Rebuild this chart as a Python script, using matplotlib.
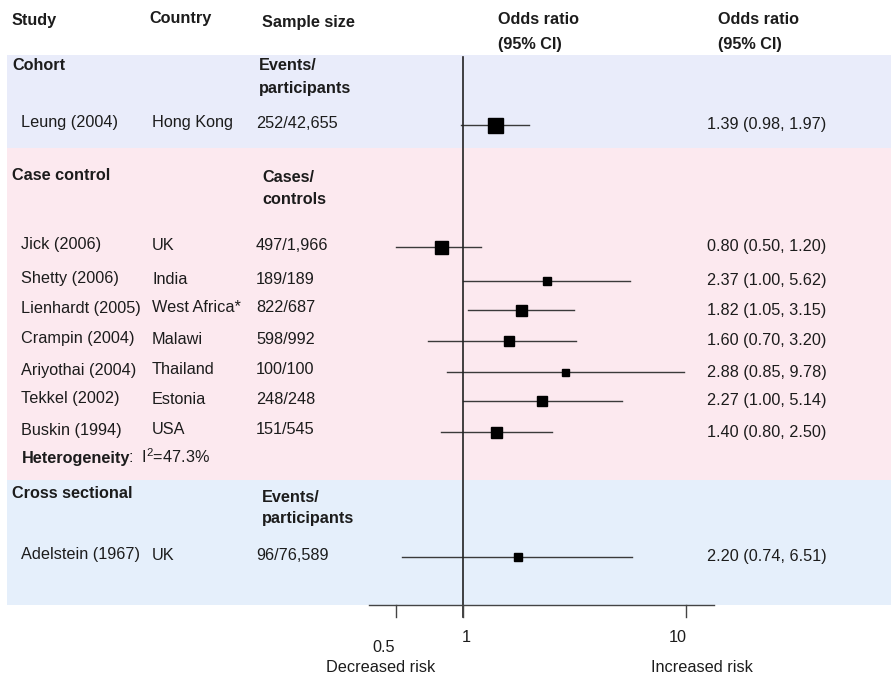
import matplotlib.pyplot as plt
import matplotlib.transforms as mtransforms

plt.rcParams['font.family'] = ['Liberation Sans', 'DejaVu Sans']
plt.rcParams['mathtext.fontset'] = 'custom'
plt.rcParams['mathtext.rm'] = 'Liberation Sans'

# data
studies = ['Leung (2004)', 'Jick (2006)', 'Shetty (2006)', 'Lienhardt (2005)', 'Crampin (2004)',
           'Ariyothai (2004)', 'Tekkel (2002)', 'Buskin (1994)', 'Adelstein (1967)']
countries = ['Hong Kong', 'UK', 'India', 'West Africa*', 'Malawi', 'Thailand', 'Estonia', 'USA', 'UK']
samples = ['252/42,655', '497/1,966', '189/189', '822/687', '598/992', '100/100', '248/248',
           '151/545', '96/76,589']
# plotted estimates (Adelstein is drawn a bit off its printed value in the original)
odds = [1.39, 0.80, 2.37, 1.82, 1.60, 2.88, 2.27, 1.40, 1.76]
ci_low = [0.98, 0.50, 1.00, 1.05, 0.70, 0.85, 1.00, 0.80, 0.53]
ci_high = [1.97, 1.20, 5.62, 3.15, 3.20, 9.78, 5.14, 2.50, 5.73]
or_labels = ['1.39 (0.98, 1.97)', '0.80 (0.50, 1.20)', '2.37 (1.00, 5.62)', '1.82 (1.05, 3.15)',
             '1.60 (0.70, 3.20)', '2.88 (0.85, 9.78)', '2.27 (1.00, 5.14)', '1.40 (0.80, 2.50)',
             '2.20 (0.74, 6.51)']
ticks = [0.5, 1, 10]
tick_labels = ['0.5', '1', '10']
axis_range = (0.38, 13.4)

# layout (pixel rows) and box sizes
W, H = 891, 677
row_y = [125, 247, 281, 310, 341, 372, 401, 432, 557]
box_px = [15, 13, 8, 11, 10, 7, 10, 11, 8]
fs = 11.7
tc = '#1c1c1c'

fig = plt.figure(figsize=(W / 100, H / 100), dpi=100)
ax = fig.add_axes([0, 0, 1, 1])
ax.set_xscale('log')
# 1 sits at x=463 px, one decade = 223 px
ax.set_xlim(10 ** (-463 / 223), 10 ** ((W - 463) / 223))
ax.set_ylim(H, 0)
ax.axis('off')

tr = mtransforms.blended_transform_factory(ax.transAxes, ax.transData)

def put(x, y, s, bold=False, ha='left', **kw):
    ax.text(x / W, y, s, transform=tr, ha=ha, va='center', fontsize=fs, color=tc,
            fontweight='bold' if bold else 'normal', **kw)

# background bands
ax.axhspan(55, 148, xmin=7 / W, xmax=1, color='#e9ecfa', lw=0, zorder=0)
ax.axhspan(148, 480, xmin=7 / W, xmax=1, color='#fce9ef', lw=0, zorder=0)
ax.axhspan(480, 605, xmin=7 / W, xmax=1, color='#e5effb', lw=0, zorder=0)

# column headers
put(12, 20, 'Study', bold=True)
put(149, 19, 'Country', bold=True)
put(262, 23, 'Sample size', bold=True)
put(498, 20, 'Odds ratio', bold=True)
put(498, 44, '(95% CI)', bold=True)
put(718, 20, 'Odds ratio', bold=True)
put(718, 44, '(95% CI)', bold=True)

# section headers
put(12, 66, 'Cohort', bold=True)
put(259, 66, 'Events/', bold=True)
put(259, 89, 'participants', bold=True)
put(12, 176, 'Case control', bold=True)
put(262, 178, 'Cases/', bold=True)
put(262, 199, 'controls', bold=True)
put(12, 494, 'Cross sectional', bold=True)
put(262, 497, 'Events/', bold=True)
put(262, 519, 'participants', bold=True)

put(22, 458, 'Heterogeneity', bold=True)
put(128, 457, r':  I$^{2}$=47.3%')

# study rows
for i in range(len(studies)):
    y = row_y[i]
    put(21, y - 2, studies[i])
    put(152, y - 2, countries[i])
    put(256, y - 2, samples[i])
    put(707, y, or_labels[i])
    ax.plot([ci_low[i], ci_high[i]], [y, y], color='#3a3a3a', lw=1.0, zorder=2)
    ax.plot(odds[i], y, marker='s', ms=box_px[i] * 0.72, color='black', zorder=3)

# reference line and bottom axis
ax.plot([1, 1], [57, 617], color='#222222', lw=1.2, zorder=2)
ax.plot(axis_range, [605, 605], color='#444444', lw=1.0, zorder=2)
for t in ticks:
    ax.plot([t, t], [605, 617], color='#444444', lw=1.0, zorder=2)

ax.annotate(tick_labels[0], (ticks[0], 647), xytext=(-9, 0), textcoords='offset points',
            ha='center', va='center', fontsize=fs, color=tc)
ax.annotate(tick_labels[1], (ticks[1], 637), xytext=(2, 0), textcoords='offset points',
            ha='center', va='center', fontsize=fs, color=tc)
ax.annotate(tick_labels[2], (ticks[2], 637), xytext=(-6, 0), textcoords='offset points',
            ha='center', va='center', fontsize=fs, color=tc)
put(381, 667, 'Decreased risk', ha='center')
put(702, 667, 'Increased risk', ha='center')

fig.savefig('out.png', dpi=100)
